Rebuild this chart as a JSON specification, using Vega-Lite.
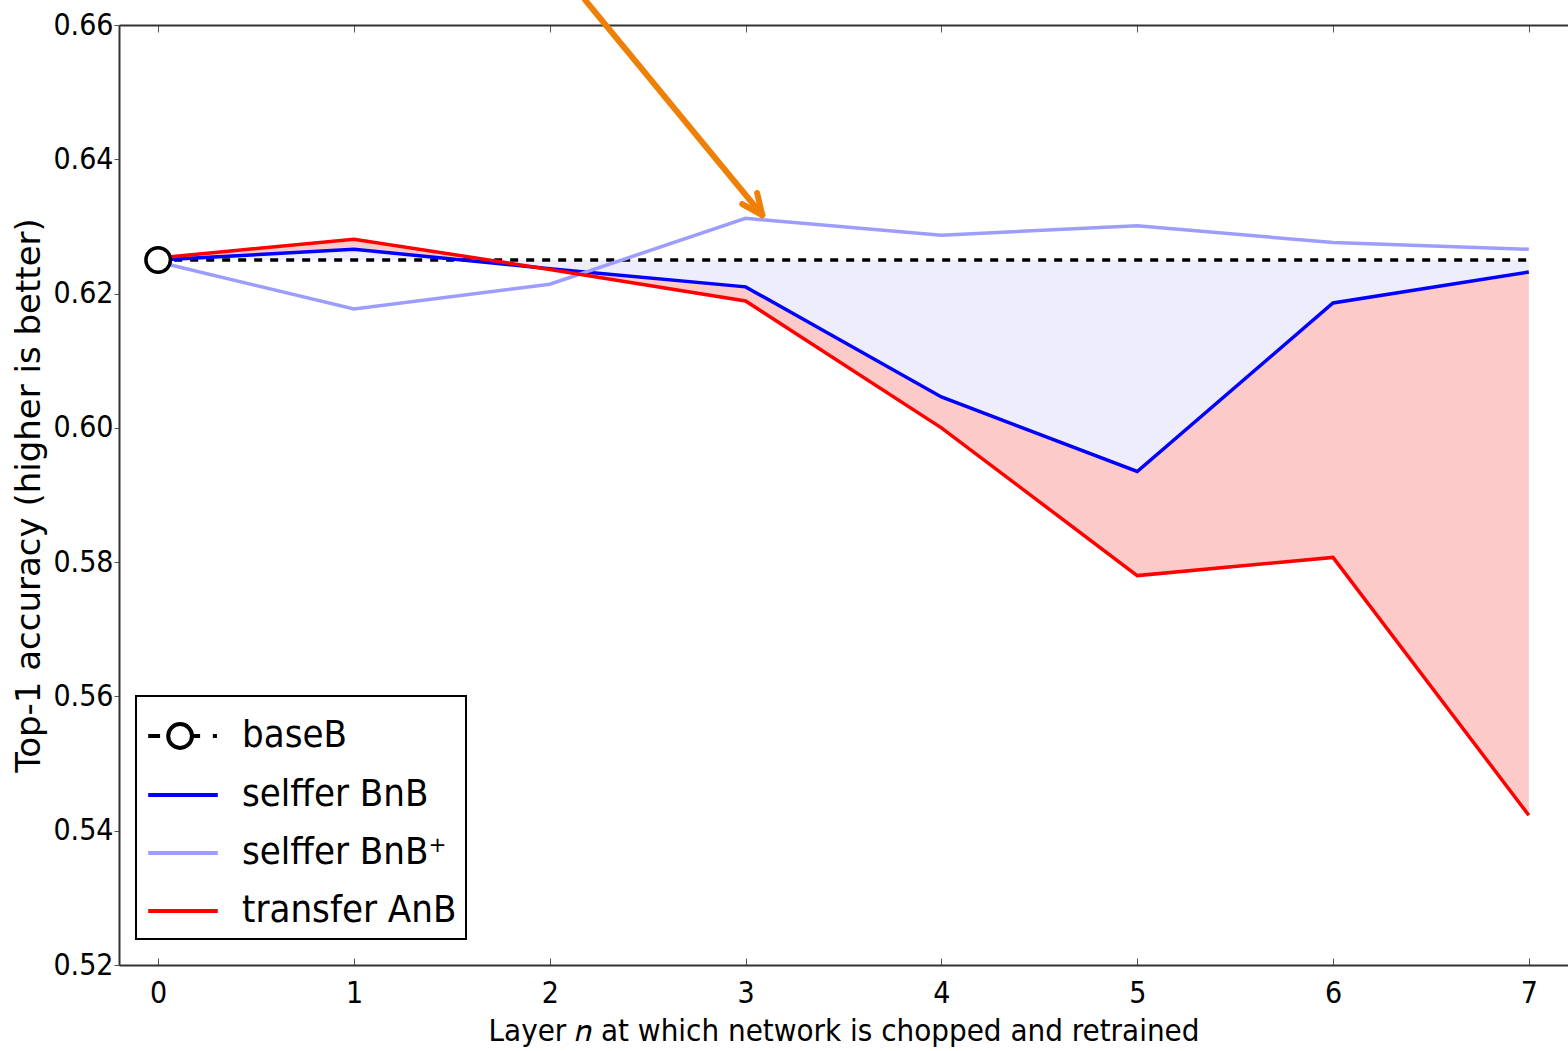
{
  "$schema": "https://vega.github.io/schema/vega-lite/v6.json",
  "autosize": "none",
  "width": 1449,
  "height": 940,
  "padding": {"left": 119, "top": 25, "right": 0, "bottom": 86},
  "background": "white",
  "config": {
    "view": {"stroke": null},
    "font": "DejaVu Sans Condensed",
    "axis": {
      "labelFont": "DejaVu Sans Condensed",
      "titleFont": "DejaVu Sans Condensed",
      "labelFontSize": 30,
      "titleFontSize": 31,
      "labelColor": "black",
      "titleColor": "black",
      "titleFontWeight": "normal",
      "domainColor": "#333333",
      "domainWidth": 2,
      "tickColor": "#555555",
      "tickWidth": 1,
      "grid": false
    }
  },
  "datasets": {
    "acc": [
      {"layer": 0, "series": "baseB", "acc": 0.625},
      {"layer": 1, "series": "baseB", "acc": 0.625},
      {"layer": 2, "series": "baseB", "acc": 0.625},
      {"layer": 3, "series": "baseB", "acc": 0.625},
      {"layer": 4, "series": "baseB", "acc": 0.625},
      {"layer": 5, "series": "baseB", "acc": 0.625},
      {"layer": 6, "series": "baseB", "acc": 0.625},
      {"layer": 7, "series": "baseB", "acc": 0.625},
      {"layer": 0, "series": "selffer BnB", "acc": 0.625},
      {"layer": 1, "series": "selffer BnB", "acc": 0.6266},
      {"layer": 2, "series": "selffer BnB", "acc": 0.6237},
      {"layer": 3, "series": "selffer BnB", "acc": 0.621},
      {"layer": 4, "series": "selffer BnB", "acc": 0.6046},
      {"layer": 5, "series": "selffer BnB", "acc": 0.5935},
      {"layer": 6, "series": "selffer BnB", "acc": 0.6186},
      {"layer": 7, "series": "selffer BnB", "acc": 0.6232},
      {"layer": 0, "series": "selffer BnB⁺", "acc": 0.6247},
      {"layer": 1, "series": "selffer BnB⁺", "acc": 0.6177},
      {"layer": 2, "series": "selffer BnB⁺", "acc": 0.6214},
      {"layer": 3, "series": "selffer BnB⁺", "acc": 0.6312},
      {"layer": 4, "series": "selffer BnB⁺", "acc": 0.6287},
      {"layer": 5, "series": "selffer BnB⁺", "acc": 0.6301},
      {"layer": 6, "series": "selffer BnB⁺", "acc": 0.6276},
      {"layer": 7, "series": "selffer BnB⁺", "acc": 0.6266},
      {"layer": 0, "series": "transfer AnB", "acc": 0.6253},
      {"layer": 1, "series": "transfer AnB", "acc": 0.6281},
      {"layer": 2, "series": "transfer AnB", "acc": 0.6236},
      {"layer": 3, "series": "transfer AnB", "acc": 0.6189},
      {"layer": 4, "series": "transfer AnB", "acc": 0.6},
      {"layer": 5, "series": "transfer AnB", "acc": 0.578},
      {"layer": 6, "series": "transfer AnB", "acc": 0.5807},
      {"layer": 7, "series": "transfer AnB", "acc": 0.5423}
    ],
    "arrow": [
      {"part": "shaft", "x": 2.181, "y": 0.6637, "xe": 3.085, "ye": 0.6317},
      {"part": "barb1", "x": 2.983, "y": 0.63334, "xe": 3.085, "ye": 0.6317},
      {"part": "barb2", "x": 3.059, "y": 0.63498, "xe": 3.085, "ye": 0.6317}
    ]
  },
  "resolve": {"axis": {"x": "independent"}},
  "layer": [
    {
      "data": {"name": "acc"},
      "transform": [{"pivot": "series", "value": "acc", "groupby": ["layer"]}],
      "mark": {"type": "area", "color": "#ededfc", "opacity": 1},
      "encoding": {
        "x": {"field": "layer", "type": "quantitative",
              "scale": {"domain": [-0.2, 7.2], "nice": false, "zero": false},
              "axis": {"orient": "top", "labels": false, "title": null, "values": [0,1,2,3,4,5,6,7], "tickSize": -7, "domainColor": "#333333"}},
        "y": {"field": "baseB", "type": "quantitative",
              "scale": {"domain": [0.52, 0.66], "nice": false, "zero": false},
              "axis": {"title": "Top-1 accuracy (higher is better)", "titleFont": "DejaVu Sans", "titleFontSize": 34, "values": [0.52,0.54,0.56,0.58,0.6,0.62,0.64,0.66], "format": ".2f", "tickSize": 5, "labelPadding": 1, "titlePadding": 6}},
        "y2": {"field": "selffer BnB"}
      }
    },
    {
      "data": {"name": "acc"},
      "transform": [{"pivot": "series", "value": "acc", "groupby": ["layer"]}],
      "mark": {"type": "area", "color": "#fdcaca", "opacity": 1},
      "encoding": {
        "x": {"field": "layer", "type": "quantitative", "axis": null},
        "y": {"field": "selffer BnB", "type": "quantitative"},
        "y2": {"field": "transfer AnB"}
      }
    },
    {
      "data": {"name": "acc"},
      "transform": [{"filter": "datum.series === 'baseB'"}],
      "mark": {"type": "line", "strokeWidth": 3.5, "color": "black", "strokeDash": [8, 8]},
      "encoding": {
        "x": {"field": "layer", "type": "quantitative", "axis": null},
        "y": {"field": "acc", "type": "quantitative"},
        "order": {"field": "layer", "type": "quantitative"}
      }
    },
    {
      "data": {"name": "acc"},
      "transform": [{"filter": "datum.series !== 'baseB'"}],
      "mark": {"type": "line", "strokeWidth": 3.5},
      "encoding": {
        "x": {"field": "layer", "type": "quantitative",
              "axis": {"orient": "bottom", "title": "Layer 𝑛 at which network is chopped and retrained", "values": [0,1,2,3,4,5,6,7], "format": "d", "tickSize": -7, "labelPadding": 20, "titlePadding": 8}},
        "y": {"field": "acc", "type": "quantitative"},
        "color": {"field": "series", "type": "nominal",
          "scale": {"domain": ["baseB", "selffer BnB", "selffer BnB⁺", "transfer AnB"], "range": ["#000000", "#0000ff", "#9d9dff", "#ff0000"]},
          "legend": {
            "orient": "none", "legendX": 17, "legendY": 671, "title": null,
            "strokeColor": "black", "fillColor": "white", "padding": 9, "cornerRadius": 0,
            "symbolType": "M-1.2,0H1.2", "symbolSize": 3364, "symbolStrokeWidth": 4, "symbolOffset": 7,
            "labelFont": "DejaVu Sans Condensed", "labelFontSize": 38, "labelColor": "black", "labelOffset": 28, "rowPadding": 8, "labelLimit": 400,
            "encode": {
              "legend": {"update": {"strokeWidth": {"value": 2}}},
              "symbols": {"update": {
                "shape": {"signal": "datum.value === 'baseB' ? 'M-1.2,0H-0.79M0.31,0A0.41,0.41 0 1,1 -0.51,0A0.41,0.41 0 1,1 0.31,0H0.59M1.03,0H1.17' : 'M-1.2,0H1.2'"},
                "fill": {"value": "transparent"},
                "strokeWidth": {"value": 4}
              }}
            }
          }},
        "order": {"field": "layer", "type": "quantitative"}
      }
    },
    {
      "data": {"name": "acc"},
      "transform": [{"filter": "datum.series === 'baseB' && datum.layer === 0"}],
      "mark": {"type": "point", "shape": "circle", "filled": false, "fill": "white", "stroke": "black", "strokeWidth": 3.5, "size": 600, "opacity": 1},
      "encoding": {
        "x": {"field": "layer", "type": "quantitative", "axis": null},
        "y": {"field": "acc", "type": "quantitative"}
      }
    },
    {
      "data": {"name": "arrow"},
      "mark": {"type": "rule", "color": "#ee8008", "strokeWidth": 6, "strokeCap": "round", "clip": false},
      "encoding": {
        "x": {"field": "x", "type": "quantitative", "axis": null},
        "y": {"field": "y", "type": "quantitative"},
        "x2": {"field": "xe"},
        "y2": {"field": "ye"}
      }
    }
  ]
}
